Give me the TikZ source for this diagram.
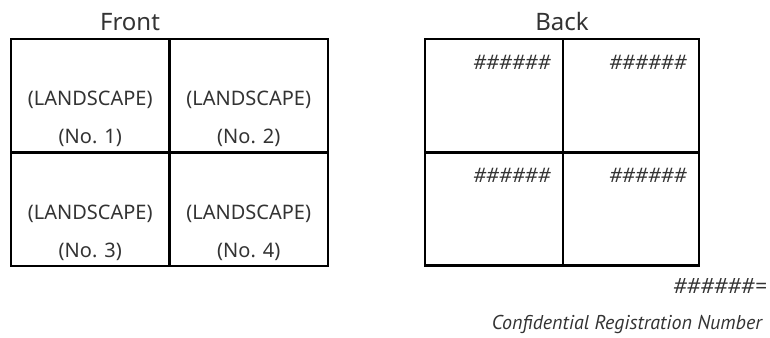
\documentclass[tikz,border=0pt]{standalone}
\usepackage{fontspec}
\setmainfont{Noto Sans}
\newfontfamily\narrowsans{PT Sans}
\begin{document}
\begin{tikzpicture}[x=1pt,y=-1pt,
  cell/.style={draw=black,line width=2.2pt,minimum width=#1,minimum height=113.5pt,inner sep=0pt,outer sep=0pt},
  label/.style={text=black!80,font=\fontsize{20}{22}\selectfont,inner sep=0pt},
  title/.style={text=black!80,font=\fontsize{24}{26}\selectfont,inner sep=0pt},
  code/.style={text=black!80,font=\fontsize{20}{22}\itshape,inner sep=0pt,anchor=east}]
\useasboundingbox (0,0) rectangle (770,337);

% Front side: four landscape panels
\node[title] (front) at (130,22) {Front};
\node[cell=158.5pt,anchor=north west] (f1) at (11,39) {};
\node[cell=158.5pt,anchor=north west] (f2) at (169.5,39) {};
\node[cell=158.5pt,anchor=north west] (f3) at (11,152.5) {};
\node[cell=158.5pt,anchor=north west] (f4) at (169.5,152.5) {};
\foreach \c/\n in {f1/1,f2/2,f3/3,f4/4}{
  \node[label] (\c l) at ([shift={(0,61)}]\c.north) {(LANDSCAPE)};
  \node[label] (\c n) at ([shift={(0,99)}]\c.north) {(No. \n)};
}

% Back side: registration numbers in each panel
\node[title] (back) at (562,22) {Back};
\node[cell=138pt,anchor=north west] (b1) at (425,39) {};
\node[cell=136pt,anchor=north west] (b2) at (563,39) {};
\node[cell=138pt,anchor=north west] (b3) at (425,152) {};
\node[cell=136pt,anchor=north west] (b4) at (563,152) {};
\foreach \c in {b1,b2,b3,b4}{
  \node[code] (\c h) at ([shift={(-12,23)}]\c.north east) {\#\#\#\#\#\#};
}

% Legend
\node[code,font=\fontsize{21}{23}\itshape] (key) at (767,286) {\#\#\#\#\#\#=};
\node[code,font=\narrowsans\fontsize{20}{22}\itshape] (keytext) at (762,324) {Confidential Registration Number};
\end{tikzpicture}
\end{document}
